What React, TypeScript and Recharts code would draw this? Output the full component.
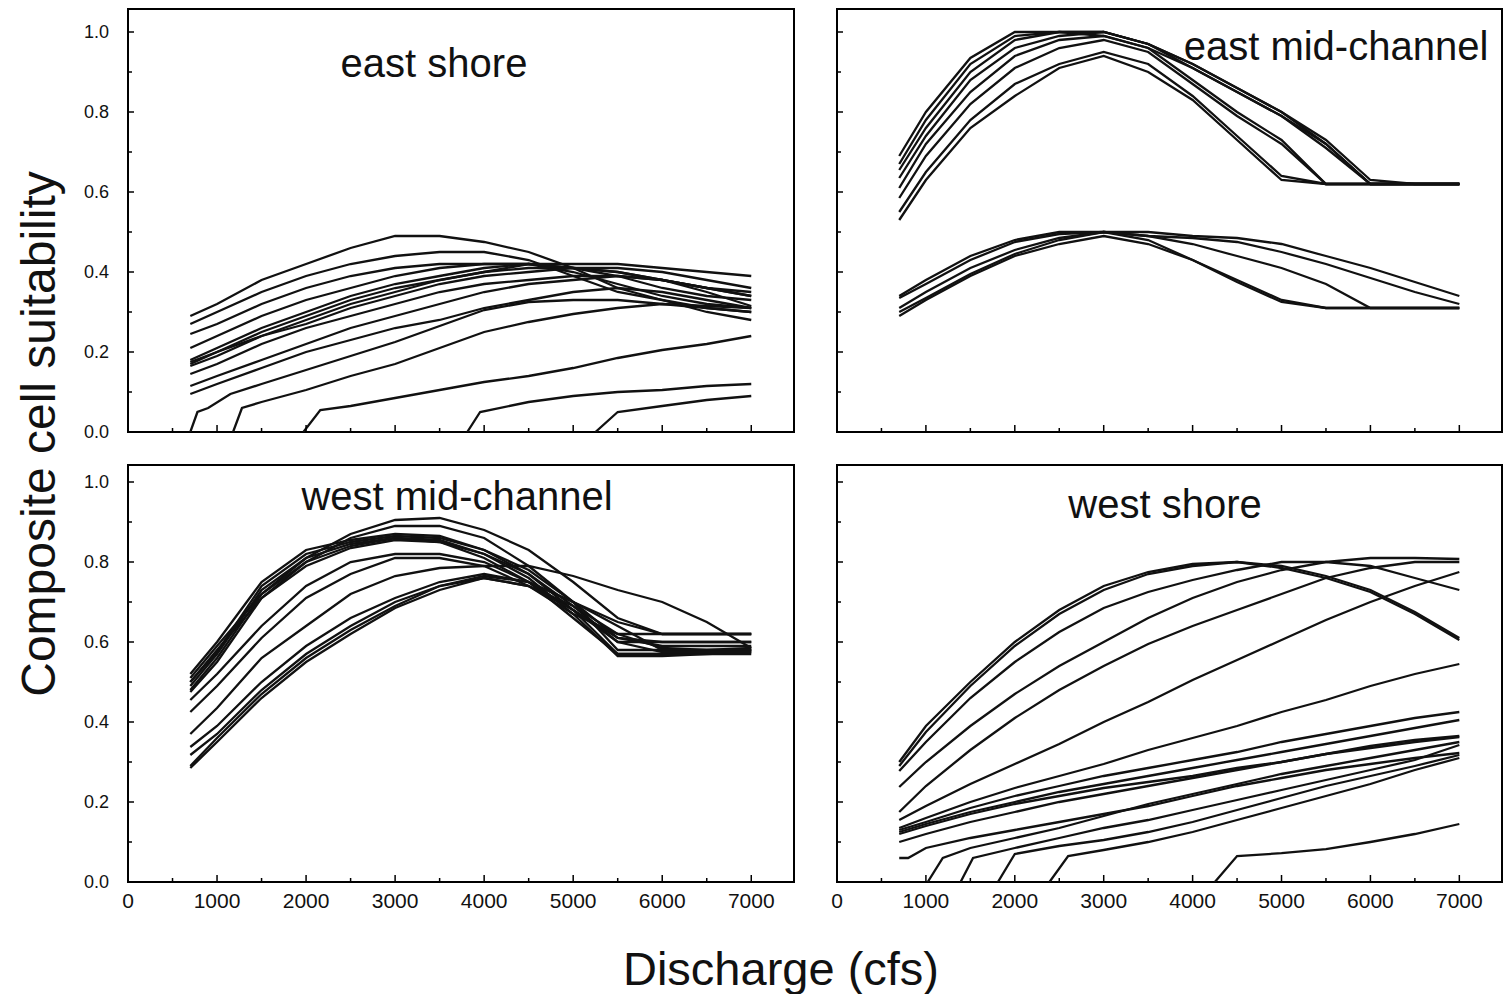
import { LineChart, Line, XAxis, YAxis, ReferenceArea } from "recharts";

// discharge grid (cfs) shared by most curves
const flows = [700, 1000, 1500, 2000, 2500, 3000, 3500, 4000, 4500, 5000, 5500, 6000, 6500, 7000];
const xTicks = [0, 500, 1000, 1500, 2000, 2500, 3000, 3500, 4000, 4500, 5000, 5500, 6000, 6500, 7000];
const yTicks = [0, 0.1, 0.2, 0.3, 0.4, 0.5, 0.6, 0.7, 0.8, 0.9, 1.0];

// east shore
const eastShore = [
  [0.29, 0.32, 0.38, 0.42, 0.46, 0.49, 0.49, 0.475, 0.45, 0.41, 0.36, 0.33, 0.3, 0.28],
  [0.27, 0.3, 0.35, 0.39, 0.42, 0.44, 0.45, 0.45, 0.43, 0.39, 0.35, 0.33, 0.31, 0.3],
  [0.245, 0.27, 0.32, 0.36, 0.39, 0.41, 0.42, 0.42, 0.42, 0.4, 0.37, 0.34, 0.32, 0.31],
  [0.21, 0.24, 0.29, 0.33, 0.36, 0.39, 0.41, 0.42, 0.42, 0.41, 0.4, 0.38, 0.36, 0.35],
  [0.18, 0.21, 0.26, 0.3, 0.34, 0.37, 0.39, 0.41, 0.42, 0.42, 0.42, 0.41, 0.4, 0.39],
  [0.175, 0.2, 0.25, 0.29, 0.33, 0.36, 0.38, 0.4, 0.41, 0.41, 0.4, 0.38, 0.36, 0.34],
  [0.17, 0.2, 0.24, 0.28, 0.32, 0.35, 0.38, 0.4, 0.42, 0.41, 0.39, 0.36, 0.34, 0.33],
  [0.165, 0.19, 0.24, 0.27, 0.31, 0.34, 0.37, 0.39, 0.4, 0.41, 0.41, 0.4, 0.38, 0.36],
  [0.145, 0.17, 0.22, 0.26, 0.29, 0.32, 0.35, 0.37, 0.38, 0.39, 0.39, 0.38, 0.35, 0.315],
  [0.115, 0.14, 0.18, 0.22, 0.26, 0.29, 0.32, 0.35, 0.37, 0.38, 0.39, 0.38, 0.36, 0.34],
  [0.095, 0.12, 0.16, 0.2, 0.23, 0.26, 0.28, 0.31, 0.33, 0.35, 0.36, 0.35, 0.33, 0.31],
];
const eastShoreRamps: [number, number][][] = [
  [[700, 0], [780, 0.05], [900, 0.06], [1150, 0.095], [1500, 0.12], [2000, 0.155], [2500, 0.19], [3000, 0.225], [3500, 0.265], [4000, 0.305], [4500, 0.325], [5000, 0.33], [5500, 0.33], [6000, 0.32], [6500, 0.31], [7000, 0.3]],
  [[1180, 0], [1280, 0.06], [1500, 0.075], [2000, 0.105], [2500, 0.14], [3000, 0.17], [3500, 0.21], [4000, 0.25], [4500, 0.275], [5000, 0.295], [5500, 0.31], [6000, 0.32], [6500, 0.315], [7000, 0.31]],
  [[1970, 0], [2160, 0.055], [2500, 0.065], [3000, 0.085], [3500, 0.105], [4000, 0.125], [4500, 0.14], [5000, 0.16], [5500, 0.185], [6000, 0.205], [6500, 0.22], [7000, 0.24]],
  [[3810, 0], [3955, 0.05], [4500, 0.075], [5000, 0.09], [5500, 0.1], [6000, 0.105], [6500, 0.115], [7000, 0.12]],
  [[5250, 0], [5500, 0.05], [6000, 0.065], [6500, 0.08], [7000, 0.09]],
];

// east mid-channel
const eastMid = [
  [0.69, 0.8, 0.935, 1.0, 1.0, 0.99, 0.96, 0.91, 0.85, 0.79, 0.71, 0.62, 0.62, 0.62],
  [0.67, 0.78, 0.92, 0.99, 1.0, 1.0, 0.97, 0.91, 0.85, 0.79, 0.72, 0.62, 0.62, 0.62],
  [0.655, 0.76, 0.9, 0.98, 1.0, 1.0, 0.97, 0.92, 0.86, 0.8, 0.72, 0.62, 0.62, 0.62],
  [0.635, 0.74, 0.88, 0.96, 0.99, 1.0, 0.97, 0.92, 0.86, 0.8, 0.73, 0.63, 0.62, 0.62],
  [0.61, 0.72, 0.85, 0.94, 0.98, 0.99, 0.96, 0.88, 0.8, 0.73, 0.62, 0.62, 0.62, 0.62],
  [0.585, 0.69, 0.82, 0.91, 0.96, 0.98, 0.95, 0.87, 0.79, 0.72, 0.62, 0.62, 0.62, 0.62],
  [0.55, 0.65, 0.78, 0.87, 0.92, 0.95, 0.92, 0.84, 0.74, 0.64, 0.62, 0.62, 0.62, 0.62],
  [0.53, 0.63, 0.76, 0.84, 0.91, 0.94, 0.9, 0.83, 0.73, 0.63, 0.62, 0.62, 0.62, 0.62],
  [0.34, 0.38, 0.44, 0.48, 0.5, 0.5, 0.5, 0.49, 0.485, 0.47, 0.44, 0.41, 0.375, 0.34],
  [0.335, 0.37, 0.43, 0.475, 0.495, 0.5, 0.49, 0.485, 0.475, 0.45, 0.42, 0.385, 0.35, 0.32],
  [0.31, 0.35, 0.41, 0.455, 0.485, 0.5, 0.49, 0.47, 0.44, 0.41, 0.37, 0.31, 0.31, 0.31],
  [0.29, 0.33, 0.39, 0.44, 0.47, 0.49, 0.47, 0.43, 0.38, 0.33, 0.31, 0.31, 0.31, 0.31],
  [0.3, 0.335, 0.395, 0.445, 0.48, 0.5, 0.48, 0.43, 0.375, 0.325, 0.31, 0.31, 0.31, 0.31],
];

// west mid-channel
const westMid = [
  [0.51, 0.59, 0.72, 0.81, 0.87, 0.905, 0.91, 0.88, 0.83, 0.75, 0.66, 0.62, 0.62, 0.62],
  [0.5, 0.58, 0.71, 0.8, 0.86, 0.89, 0.89, 0.86, 0.79, 0.7, 0.61, 0.59, 0.59, 0.59],
  [0.52, 0.6, 0.75, 0.83, 0.855, 0.87, 0.865, 0.83, 0.77, 0.69, 0.6, 0.6, 0.6, 0.6],
  [0.5, 0.575, 0.74, 0.82, 0.85, 0.865, 0.86, 0.83, 0.78, 0.7, 0.58, 0.58, 0.58, 0.585],
  [0.49, 0.57, 0.73, 0.81, 0.845, 0.86, 0.85, 0.82, 0.77, 0.68, 0.57, 0.57, 0.575, 0.58],
  [0.48, 0.56, 0.72, 0.8, 0.84, 0.86, 0.855, 0.82, 0.76, 0.67, 0.565, 0.565, 0.57, 0.575],
  [0.475, 0.55, 0.71, 0.79, 0.835, 0.855, 0.85, 0.81, 0.75, 0.66, 0.57, 0.57, 0.57, 0.57],
  [0.455, 0.52, 0.64, 0.74, 0.8, 0.82, 0.82, 0.8, 0.75, 0.68, 0.61, 0.6, 0.6, 0.6],
  [0.425, 0.49, 0.61, 0.71, 0.77, 0.81, 0.81, 0.79, 0.74, 0.67, 0.62, 0.62, 0.62, 0.62],
  [0.37, 0.435, 0.56, 0.64, 0.72, 0.765, 0.785, 0.79, 0.79, 0.765, 0.73, 0.7, 0.65, 0.585],
  [0.3375, 0.39, 0.5, 0.59, 0.66, 0.71, 0.75, 0.77, 0.75, 0.7, 0.65, 0.62, 0.62, 0.62],
  [0.3175, 0.37, 0.48, 0.57, 0.64, 0.7, 0.74, 0.76, 0.74, 0.69, 0.62, 0.585, 0.58, 0.58],
  [0.29, 0.36, 0.47, 0.56, 0.63, 0.69, 0.74, 0.765, 0.75, 0.7, 0.64, 0.58, 0.58, 0.58],
  [0.285, 0.35, 0.46, 0.55, 0.62, 0.685, 0.73, 0.76, 0.74, 0.68, 0.6, 0.575, 0.575, 0.575],
];

// west shore
const westShore = [
  [0.3, 0.39, 0.5, 0.6, 0.68, 0.74, 0.775, 0.795, 0.8, 0.785, 0.76, 0.725, 0.67, 0.605],
  [0.29, 0.375, 0.49, 0.59, 0.67, 0.73, 0.77, 0.79, 0.8, 0.79, 0.765, 0.73, 0.675, 0.61],
  [0.2775, 0.35, 0.46, 0.55, 0.625, 0.685, 0.725, 0.755, 0.78, 0.8, 0.8, 0.79, 0.76, 0.73],
  [0.2375, 0.3, 0.39, 0.47, 0.54, 0.6, 0.66, 0.71, 0.75, 0.78, 0.8, 0.81, 0.81, 0.8075],
  [0.175, 0.24, 0.33, 0.41, 0.48, 0.54, 0.595, 0.64, 0.68, 0.72, 0.76, 0.785, 0.8, 0.8],
  [0.155, 0.19, 0.245, 0.295, 0.345, 0.4, 0.45, 0.505, 0.555, 0.605, 0.655, 0.7, 0.74, 0.775],
  [0.135, 0.16, 0.2, 0.235, 0.265, 0.295, 0.33, 0.36, 0.39, 0.425, 0.455, 0.49, 0.52, 0.545],
  [0.13, 0.15, 0.185, 0.215, 0.24, 0.265, 0.285, 0.305, 0.325, 0.35, 0.37, 0.39, 0.41, 0.425],
  [0.125, 0.145, 0.175, 0.2, 0.225, 0.245, 0.265, 0.285, 0.305, 0.325, 0.345, 0.365, 0.385, 0.405],
  [0.12, 0.14, 0.17, 0.195, 0.215, 0.235, 0.25, 0.265, 0.285, 0.3, 0.32, 0.34, 0.355, 0.365],
  [0.1, 0.12, 0.15, 0.175, 0.2, 0.22, 0.24, 0.26, 0.28, 0.3, 0.32, 0.335, 0.35, 0.3625],
];
const westShoreRamps: [number, number][][] = [
  [[700, 0.06], [800, 0.06], [1000, 0.085], [1500, 0.11], [2000, 0.13], [2500, 0.15], [3000, 0.17], [3500, 0.19], [4000, 0.215], [4500, 0.24], [5000, 0.26], [5500, 0.28], [6000, 0.295], [6500, 0.31], [7000, 0.3225]],
  [[1020, 0], [1190, 0.06], [1500, 0.085], [2000, 0.11], [2500, 0.135], [3000, 0.165], [3500, 0.195], [4000, 0.22], [4500, 0.245], [5000, 0.27], [5500, 0.29], [6000, 0.31], [6500, 0.33], [7000, 0.35]],
  [[1390, 0], [1530, 0.06], [2000, 0.085], [2500, 0.11], [3000, 0.135], [3500, 0.155], [4000, 0.18], [4500, 0.205], [5000, 0.23], [5500, 0.255], [6000, 0.28], [6500, 0.305], [7000, 0.3425]],
  [[1810, 0], [2000, 0.07], [2500, 0.09], [3000, 0.105], [3500, 0.125], [4000, 0.15], [4500, 0.18], [5000, 0.21], [5500, 0.24], [6000, 0.265], [6500, 0.29], [7000, 0.3175]],
  [[2390, 0], [2600, 0.065], [3000, 0.08], [3500, 0.1], [4000, 0.125], [4500, 0.155], [5000, 0.185], [5500, 0.215], [6000, 0.245], [6500, 0.28], [7000, 0.31]],
  [[4250, 0], [4500, 0.065], [5000, 0.072], [5500, 0.082], [6000, 0.1], [6500, 0.12], [7000, 0.145]],
];

const FONT = "'Liberation Sans', Arial, Helvetica, sans-serif";
const X_MAX = 7480;

const xTick = (labels: boolean) => (props: any) => {
  const { x, y, payload } = props;
  const major = payload.value % 1000 === 0;
  return (
    <g>
      <line x1={x} x2={x} y1={y} y2={y - (major ? 7 : 4)} stroke="#000" strokeWidth={1.5} />
      {labels && major && (
        <text x={x} y={y + 26} textAnchor="middle" fontSize={21} fontFamily={FONT} fill="#111">
          {payload.value}
        </text>
      )}
    </g>
  );
};

const yTick = (labels: boolean) => (props: any) => {
  const { x, y, payload } = props;
  const major = Math.round(payload.value * 10) % 2 === 0;
  return (
    <g>
      <line x1={x} x2={x + (major ? 6 : 4)} y1={y} y2={y} stroke="#000" strokeWidth={1.5} />
      {labels && major && (
        <text x={x - 19} y={y + 6} textAnchor="end" fontSize={18} fontFamily={FONT} fill="#111">
          {payload.value.toFixed(1)}
        </text>
      )}
    </g>
  );
};

function Panel({ left, top, plotW, plotH, curves, ramps, xLabels, yLabels }: any) {
  const yMax = plotH / 400;
  const series = [
    ...curves.map((c: number[]) => c.map((s, i) => ({ q: flows[i], s }))),
    ...(ramps || []).map((r: [number, number][]) => r.map(([q, s]) => ({ q, s }))),
  ];
  return (
    <div style={{ position: "absolute", left: left - 50, top: top - 2 }}>
      <LineChart width={50 + plotW + 2} height={2 + plotH + 30} margin={{ top: 2, right: 2, bottom: 0, left: 0 }}>
        <XAxis
          type="number"
          dataKey="q"
          domain={[0, X_MAX]}
          ticks={xTicks}
          interval={0}
          allowDataOverflow
          axisLine={false}
          tickLine={false}
          tickSize={0}
          tickMargin={0}
          height={30}
          tick={xTick(xLabels)}
        />
        <YAxis
          type="number"
          domain={[0, yMax]}
          ticks={yTicks}
          interval={0}
          allowDataOverflow
          axisLine={false}
          tickLine={false}
          tickSize={0}
          tickMargin={0}
          width={50}
          tick={yTick(yLabels)}
        />
        <ReferenceArea x1={0} x2={X_MAX} y1={0} y2={yMax} fill="none" stroke="#000" strokeWidth={2} />
        {series.map((d: any[], i: number) => (
          <Line
            key={i}
            data={d}
            dataKey="s"
            type="linear"
            stroke="#111"
            strokeWidth={2.3}
            dot={false}
            activeDot={false}
            isAnimationActive={false}
          />
        ))}
      </LineChart>
    </div>
  );
}

export default function App() {
  return (
    <div style={{ position: "absolute", left: 0, top: 0, width: 1503, height: 994, overflow: "hidden", background: "#fff" }}>
      <svg width={1503} height={994} style={{ position: "absolute", left: 0, top: 0 }}>
        <text x={55} y={434} transform="rotate(-90, 55, 434)" textAnchor="middle" fontSize={48} fontFamily={FONT} fill="#111">
          Composite cell suitability
        </text>
        <text x={781} y={985} textAnchor="middle" fontSize={47} fontFamily={FONT} fill="#111">
          Discharge (cfs)
        </text>
      </svg>
      <Panel left={128} top={9} plotW={666} plotH={423} curves={eastShore} ramps={eastShoreRamps} xLabels={false} yLabels />
      <Panel left={837} top={9} plotW={665} plotH={423} curves={eastMid} xLabels={false} yLabels={false} />
      <Panel left={128} top={465} plotW={666} plotH={417} curves={westMid} xLabels yLabels />
      <Panel left={837} top={465} plotW={665} plotH={417} curves={westShore} ramps={westShoreRamps} xLabels yLabels={false} />
      <svg width={1503} height={994} style={{ position: "absolute", left: 0, top: 0, pointerEvents: "none" }}>
        <text x={434} y={77} textAnchor="middle" fontSize={40} fontFamily={FONT} fill="#111">east shore</text>
        <text x={1336} y={60} textAnchor="middle" fontSize={40} fontFamily={FONT} fill="#111">east mid-channel</text>
        <text x={457} y={510} textAnchor="middle" fontSize={40} fontFamily={FONT} fill="#111">west mid-channel</text>
        <text x={1165} y={518} textAnchor="middle" fontSize={40} fontFamily={FONT} fill="#111">west shore</text>
      </svg>
    </div>
  );
}
